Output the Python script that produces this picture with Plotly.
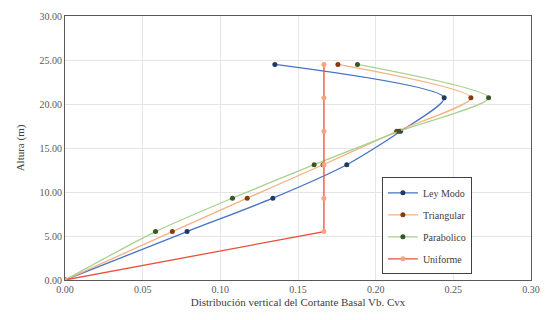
import plotly.graph_objects as go

heights = [0.0, 5.5, 9.3, 13.1, 16.9, 20.7, 24.5]
ley_modo = [0.0, 0.0786, 0.1338, 0.1814, 0.2160, 0.2441, 0.1351]
triangular = [0.0, 0.0691, 0.1173, 0.1661, 0.2135, 0.2613, 0.1757]
parabolico = [0.0, 0.0583, 0.1078, 0.1604, 0.2150, 0.2727, 0.1883]
uniforme = [0.0, 0.1667, 0.1667, 0.1667, 0.1667, 0.1667, 0.1667]

x_ticks = [0.0, 0.05, 0.10, 0.15, 0.20, 0.25, 0.30]
y_ticks = [0, 5, 10, 15, 20, 25, 30]

FONT = "Liberation Serif, Times New Roman, DejaVu Serif, serif"

series = [
    ("Ley Modo", ley_modo, "#4472C4", "#1F3864", "spline"),
    ("Triangular", triangular, "#F4B183", "#843C0C", "spline"),
    ("Parabolico", parabolico, "#A9D18E", "#385723", "spline"),
    ("Uniforme", uniforme, "#E8503A", "#F4A582", "linear"),
]

fig = go.Figure()
for i, (name, vals, lc, mc, shape) in enumerate(series):
    fig.add_trace(go.Scatter(
        x=vals, y=heights, name=name, mode="lines+markers",
        line=dict(color=lc, width=1.3, shape=shape, smoothing=0.7),
        marker=dict(color=mc, size=5, symbol="circle"),
        legendgroup=f"g{i}",
    ))

fig.update_layout(
    width=550, height=320,
    margin=dict(l=65, r=10, t=10, b=40),
    paper_bgcolor="white", plot_bgcolor="white",
    font=dict(family=FONT, size=10, color="#404040"),
    showlegend=True,
    legend=dict(
        x=0.68, y=0.389, xanchor="left", yanchor="top",
        bordercolor="#404040", borderwidth=1, bgcolor="white",
        font=dict(family=FONT, size=10, color="#404040"),
        tracegroupgap=3, itemwidth=30,
    ),
    xaxis=dict(
        range=[0, 0.30], tickvals=x_ticks, tickformat=".2f",
        showgrid=True, gridcolor="#E6E6E6", gridwidth=1,
        showline=True, linecolor="#595959", linewidth=1, mirror=True,
        zeroline=False, ticks="",
        tickfont=dict(family=FONT, size=10, color="#595959"),
        title=dict(text="Distribución vertical del Cortante Basal Vb. Cvx",
                   font=dict(family=FONT, size=11, color="#404040"), standoff=4),
    ),
    yaxis=dict(
        range=[0, 30], tickvals=y_ticks, tickformat=".2f",
        showgrid=True, gridcolor="#E6E6E6", gridwidth=1,
        showline=True, linecolor="#595959", linewidth=1, mirror=True,
        zeroline=False, ticks="",
        tickfont=dict(family=FONT, size=10, color="#595959"),
        title=dict(text="Altura (m)",
                   font=dict(family=FONT, size=11, color="#404040"), standoff=12),
    ),
)

fig.write_html("out.html")
